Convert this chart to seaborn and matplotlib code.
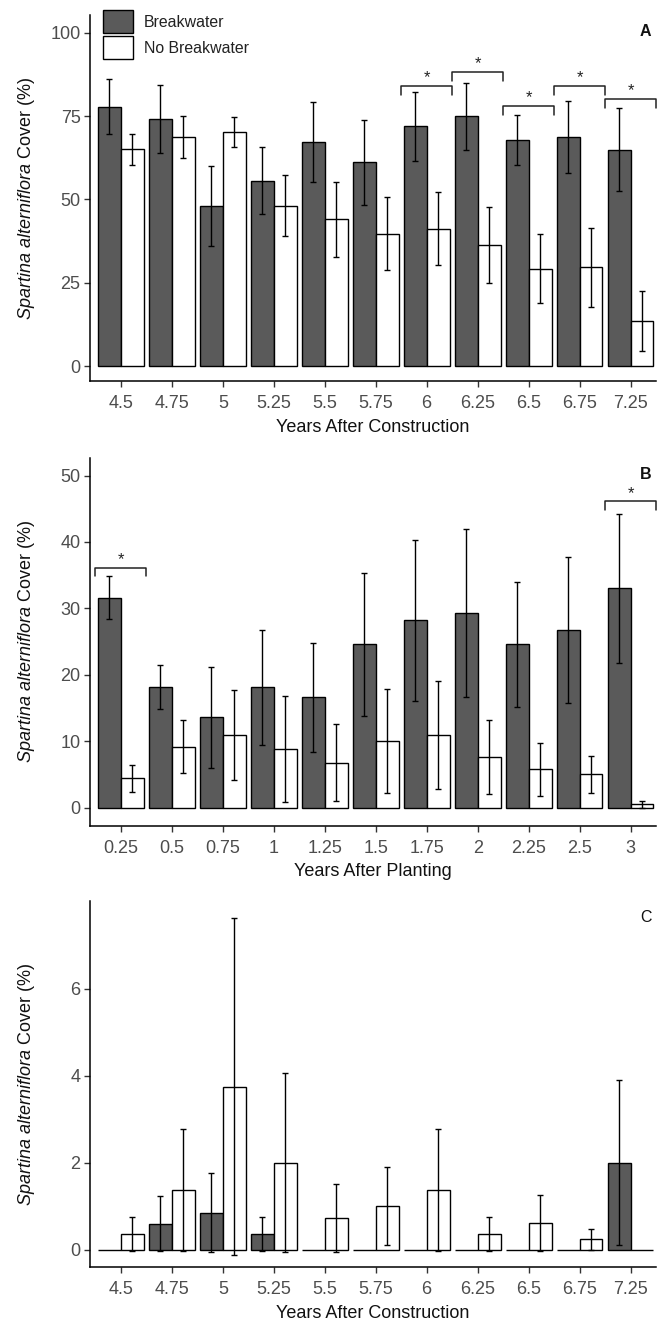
import numpy as np
import pandas as pd
import matplotlib
matplotlib.use("Agg")
import matplotlib.pyplot as plt
import seaborn as sns

sns.set_theme(style="ticks")
plt.rcParams['font.family'] = ['Liberation Sans', 'DejaVu Sans']
plt.rcParams['mathtext.fontset'] = 'custom'
plt.rcParams['mathtext.it'] = 'Liberation Sans:italic'
plt.rcParams['mathtext.rm'] = 'Liberation Sans'

# ---------------- data ----------------
groups = ["Breakwater", "No Breakwater"]

years_construction = ["4.5", "4.75", "5", "5.25", "5.5", "5.75", "6", "6.25", "6.5", "6.75", "7.25"]
years_planting = ["0.25", "0.5", "0.75", "1", "1.25", "1.5", "1.75", "2", "2.25", "2.5", "3"]

# Panel A
bw_A = [77.8, 74.2, 47.9, 55.6, 67.2, 61.1, 71.9, 74.9, 67.8, 68.7, 64.9]
bw_A_se = [8.2, 10.2, 12.0, 10.0, 11.9, 12.8, 10.3, 10.0, 7.6, 10.8, 12.5]
nb_A = [65.0, 68.7, 70.2, 48.1, 44.0, 39.7, 41.2, 36.3, 29.2, 29.6, 13.5]
nb_A_se = [4.6, 6.3, 4.5, 9.1, 11.2, 11.0, 10.9, 11.5, 10.3, 11.8, 9.0]
sig_A = ["6", "6.25", "6.5", "6.75", "7.25"]
sig_A_level = [84.0, 88.3, 78.0, 84.0, 80.1]

# Panel B
bw_B = [31.6, 18.2, 13.6, 18.1, 16.6, 24.6, 28.2, 29.3, 24.6, 26.8, 33.0]
bw_B_se = [3.2, 3.3, 7.6, 8.6, 8.2, 10.8, 12.1, 12.6, 9.4, 11.0, 11.2]
nb_B = [4.4, 9.2, 10.9, 8.8, 6.8, 10.0, 10.9, 7.6, 5.8, 5.0, 0.5]
nb_B_se = [2.1, 4.0, 6.8, 8.0, 5.8, 7.8, 8.1, 5.6, 4.0, 2.8, 0.5]
sig_B = ["0.25", "3"]
sig_B_level = [36.1, 46.1]

# Panel C
bw_C = [0, 0.6, 0.85, 0.36, 0, 0, 0, 0, 0, 0, 2.0]
bw_C_se = [0, 0.64, 0.91, 0.40, 0, 0, 0, 0, 0, 0, 1.9]
nb_C = [0.36, 1.38, 3.75, 2.0, 0.73, 1.0, 1.38, 0.36, 0.61, 0.24, 0]
nb_C_se = [0.40, 1.40, 3.87, 2.06, 0.79, 0.89, 1.40, 0.40, 0.65, 0.24, 0]

DARK = "#5a5a5a"
TICKCOL = "#4d4d4d"

fig = plt.figure(figsize=(6.66, 13.24), dpi=100)
axA = fig.add_axes([0.1356, 0.7122, 0.8494, 0.2764])
axB = fig.add_axes([0.1356, 0.3764, 0.8494, 0.2775])
axC = fig.add_axes([0.1356, 0.0428, 0.8494, 0.2769])


def panel(ax, cats, bw, bw_se, nb, nb_se, ylim, yticks, xlabel, letter, bold,
          sig_cats=(), sig_level=(), leg=0.0, legend=False):
    n = len(cats)
    df = pd.DataFrame({"cat": list(cats) * 2,
                       "cover": list(bw) + list(nb),
                       "group": [groups[0]] * n + [groups[1]] * n})
    sns.barplot(data=df, x="cat", y="cover", hue="group", order=cats,
                hue_order=groups, palette={groups[0]: DARK, groups[1]: "white"},
                edgecolor="black", linewidth=1.0, width=0.9, errorbar=None,
                saturation=1, legend=legend, ax=ax)
    bars = sorted([p for p in ax.patches if p.get_width() > 0.2],
                  key=lambda p: p.get_x())
    errs = []
    for a, b in zip(bw_se, nb_se):
        errs += [a, b]
    for p, e in zip(bars, errs):
        if e > 0:
            ax.errorbar(p.get_x() + p.get_width() / 2, p.get_height(), yerr=e,
                        fmt="none", ecolor="black", elinewidth=1.0,
                        capsize=2.2, capthick=1.0, zorder=5)
    # significance brackets
    for c, h in zip(sig_cats, sig_level):
        i = list(cats).index(c)
        ax.plot([i - 0.5, i - 0.5, i + 0.5, i + 0.5], [h - leg, h, h, h - leg],
                color="#222222", lw=1.1, clip_on=False)
        ax.annotate("*", (i, h), xytext=(0, 2.5), textcoords="offset points",
                    ha="center", va="baseline", fontsize=12, color="#222222")
    ax.set_xlim(-0.6, 10.5)
    ax.set_ylim(*ylim)
    ax.set_yticks(yticks)
    ax.set_xlabel(xlabel, fontsize=13, color="#111111", labelpad=5)
    ax.set_ylabel(r"$\it{Spartina\ alterniflora}$ Cover (%)", fontsize=13,
                  color="#111111")
    ax.yaxis.set_label_coords(-0.094, 0.5)
    sns.despine(ax=ax)
    for s in ("left", "bottom"):
        ax.spines[s].set_color("black")
        ax.spines[s].set_linewidth(1.1)
    ax.tick_params(axis="both", length=4, width=1, color="#333333",
                   labelcolor=TICKCOL, labelsize=13)
    ax.tick_params(axis="x", pad=6)
    ax.tick_params(axis="y", pad=3)
    ax.text(0.982, 0.955, letter, transform=ax.transAxes, ha="center",
            va="center", fontsize=11.5, fontweight="bold" if bold else "normal",
            color="#111111")
    if legend:
        lg = ax.get_legend()
        handles = lg.legend_handles
        labels = [t.get_text() for t in lg.texts]
        lg.remove()
        ax.legend(handles, labels, loc="upper left",
                  bbox_to_anchor=(0.0225, 1.0137), frameon=False,
                  fontsize=11.4, handlelength=1.9, handleheight=1.85,
                  labelspacing=0.2, handletextpad=0.7, borderpad=0,
                  borderaxespad=0, labelcolor="#222222")


panel(axA, years_construction, bw_A, bw_A_se, nb_A, nb_A_se, (-4.5, 105.3),
      [0, 25, 50, 75, 100], "Years After Construction", "A", True,
      sig_A, sig_A_level, leg=2.7, legend=True)
panel(axB, years_planting, bw_B, bw_B_se, nb_B, nb_B_se, (-2.7, 52.6),
      [0, 10, 20, 30, 40, 50], "Years After Planting", "B", True,
      sig_B, sig_B_level, leg=1.3)
panel(axC, years_construction, bw_C, bw_C_se, nb_C, nb_C_se, (-0.405, 8.02),
      [0, 2, 4, 6], "Years After Construction", "C", False)

fig.savefig("out.png", dpi=100)
